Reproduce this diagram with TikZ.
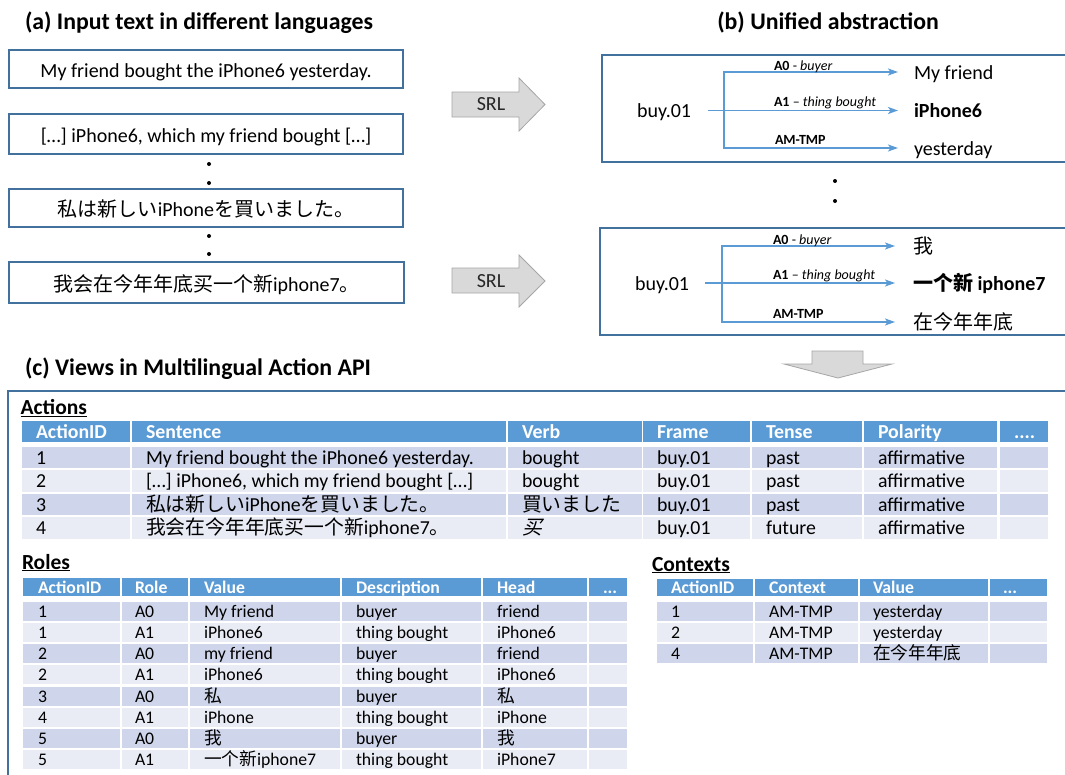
\documentclass[tikz,border=0pt]{standalone}
\usepackage{fontspec}
\setmainfont{Carlito}
\newfontfamily\jafont{Noto Sans CJK JP}
\newfontfamily\zhfont{Noto Sans CJK SC}
\newfontfamily\zhslant{Noto Sans CJK SC}[FakeSlant=0.25]
\newcommand{\cjkja}[1]{{\jafont #1}}
\newcommand{\cjkzh}[1]{{\zhfont #1}}
\usetikzlibrary{arrows.meta}
\definecolor{boxblue}{HTML}{41719C}
\definecolor{lineblue}{HTML}{5B9BD5}
\definecolor{hdr}{HTML}{5B9BD5}
\definecolor{rowa}{HTML}{CFD5EA}
\definecolor{rowb}{HTML}{E9EBF5}
\definecolor{arrowfill}{HTML}{D9D9D9}
\definecolor{arrowline}{HTML}{A6A6A6}
\def\actcols{22/130,132/506,508/642,643/750,752/862,864/997,1000/1048}
\def\rolcols{23/120,122/188,190/340,342/481,483/587,589/627}
\def\ctxcols{657/753,755/858,860/988,990/1047}
\newcommand{\cellrow}[4]{\foreach \xa/\xb in #4 {\fill[#3] (\xa,#1) rectangle (\xb,#1+#2);}}
\newcommand{\acttext}[8]{%
  \node[acttxt] (#1id) at (36,#2) {#3};
  \node[acttxt] (#1sen) at (146,#2) {#4};
  \node[acttxt] (#1verb) at (522,#2) {#5};
  \node[acttxt] (#1frm) at (657,#2) {#6};
  \node[acttxt] (#1tns) at (766,#2) {#7};
  \node[acttxt] (#1pol) at (878,#2) {#8};}
\newcommand{\roltext}[7]{%
  \node[roltxt] (#1id) at (38,#2) {#3};
  \node[roltxt] (#1role) at (135,#2) {#4};
  \node[roltxt] (#1val) at (204,#2) {#5};
  \node[roltxt] (#1desc) at (356,#2) {#6};
  \node[roltxt] (#1head) at (497,#2) {#7};}
\newcommand{\ctxtext}[5]{%
  \node[roltxt] (#1id) at (671,#2) {#3};
  \node[roltxt] (#1ctx) at (769,#2) {#4};
  \node[roltxt] (#1val) at (873,#2) {#5};}
\begin{document}
\begin{tikzpicture}[x=1pt,y=-1pt,
  every node/.style={inner sep=0pt, outer sep=0pt},
  title/.style={font=\bfseries\fontsize{23.8}{28}\selectfont, anchor=base west},
  inbox/.style={draw=boxblue, line width=1.6pt, minimum width=394pt, text height=17pt, text depth=0pt, font=\fontsize{20}{24}\selectfont},
  boxline/.style={draw=boxblue, line width=1.6pt},
  srlarrow/.style={fill=arrowfill, draw=arrowline, line width=0.8pt},
  srltxt/.style={font=\fontsize{20}{24}\selectfont, text=black!85},
  conn/.style={draw=lineblue, line width=1.6pt, -{Stealth[length=10pt,width=7pt,inset=2.5pt]}},
  rolelbl/.style={font=\fontsize{14}{16}\selectfont, anchor=base west},
  tgt/.style={font=\fontsize{20}{24}\selectfont, anchor=base west},
  seclbl/.style={font=\bfseries\fontsize{21.5}{26}\selectfont, anchor=base west},
  acttxt/.style={font=\fontsize{19.8}{23}\selectfont, anchor=base west},
  acthd/.style={acttxt, font=\bfseries\fontsize{19.8}{23}\selectfont, text=white},
  roltxt/.style={font=\fontsize{17.7}{21}\selectfont, anchor=base west},
  rolhd/.style={roltxt, font=\bfseries\fontsize{17.7}{21}\selectfont, text=white}
]
\useasboundingbox (0,0) rectangle (1065,774);
\fill[white] (0,0) rectangle (1065,774);

% titles
\node[title] (ta) at (25,29.5) {(a) Input text in different languages};
\node[title, anchor=base] (tb) at (828,29.5) {(b) Unified abstraction};
\node[title] (tc) at (25,375.5) {(c) Views in Multilingual Action API};

% input boxes
\node[inbox, minimum height=38pt] (in1) at (206,69) {My friend bought the iPhone6 yesterday.};
\node[inbox, minimum height=40pt] (in2) at (206,134) {[…] iPhone6, which my friend bought […]};
\node[inbox, minimum height=38pt] (in3) at (206,208) {\cjkja{私は新しい}iPhone\cjkja{を買いました。}};
\node[inbox, minimum height=41pt, minimum width=395pt] (in4) at (206.5,282.5) {\cjkzh{我会在今年年底买一个新}iphone7\cjkzh{。}};

% vertical dots
\foreach \y in {164,183,236,254} \fill (209,\y) circle (2);
\fill (835,181) circle (2);
\fill (835,201) circle (2);

% SRL arrows
\draw[srlarrow] (452,92) -- (519,92) -- (519,78) -- (545,104.5) -- (519,131) -- (519,117) -- (452,117) -- cycle;
\node[srltxt] (srl1) at (491,104.5) {SRL};
\draw[srlarrow] (452,268) -- (519,268) -- (519,255) -- (545,281) -- (519,307) -- (519,293) -- (452,293) -- cycle;
\node[srltxt] (srl2) at (491,281) {SRL};

% panel b, first frame
\draw[boxline] (1068,55) -- (602,55) -- (602,162) -- (1068,162);
\node[tgt] (b1v) at (637,117) {buy.01};
\coordinate (b1s) at (708,110.5);
\coordinate (b1j) at (724,110.5);
\coordinate (b1e0) at (898,72);
\coordinate (b1e1) at (898,110.5);
\coordinate (b1e2) at (898,148);
\draw[conn] (b1s) -- (b1e1);
\draw[conn] (b1j) |- (b1e0);
\draw[conn] (b1j) |- (b1e2);
\node[rolelbl] (b1l0) at (774,70.5) {\textbf{A0} - \textit{buyer}};
\node[rolelbl] (b1l1) at (774,106.5) {\textbf{A1} – \textit{thing bought}};
\node[rolelbl] (b1l2) at (775,144.3) {\textbf{AM-TMP}};
\node[tgt] (b1t0) at (914,79.3) {My friend};
\node[tgt] (b1t1) at (914,117.3) {\textbf{iPhone6}};
\node[tgt] (b1t2) at (914,155.3) {yesterday};

% panel b, second frame
\draw[boxline] (1068,228) -- (600,228) -- (600,335) -- (1068,335);
\node[tgt] (b2v) at (635,290) {buy.01};
\coordinate (b2s) at (705,283);
\coordinate (b2j) at (722,283);
\coordinate (b2e0) at (895,246);
\coordinate (b2e1) at (895,283);
\coordinate (b2e2) at (895,322);
\draw[conn] (b2s) -- (b2e1);
\draw[conn] (b2j) |- (b2e0);
\draw[conn] (b2j) |- (b2e2);
\node[rolelbl] (b2l0) at (773,244) {\textbf{A0} - \textit{buyer}};
\node[rolelbl] (b2l1) at (773,279.3) {\textbf{A1} – \textit{thing bought}};
\node[rolelbl] (b2l2) at (773,318.3) {\textbf{AM-TMP}};
\node[tgt] (b2t0) at (913,253.5) {\cjkzh{我}};
\node[tgt] (b2t1) at (913,290.7) {\textbf{\cjkzh{一个新} iphone7}};
\node[tgt] (b2t2) at (913,329.5) {\cjkzh{在今年年底}};

% down arrow
\draw[srlarrow] (812,351) -- (863,351) -- (863,364) -- (892,364) -- (838,378) -- (784,364) -- (812,364) -- cycle;

% frame of part c
\draw[boxline] (8,780) -- (8,391) -- (1070,391);

% section labels
\node[seclbl] (lact) at (20.7,414.4) {\underline{Actions}};
\node[seclbl] (lrol) at (22,569) {\underline{Roles}};
\node[seclbl] (lctx) at (652,571) {\underline{Contexts}};

% Actions table
\cellrow{421}{21}{hdr}{\actcols}
\cellrow{446.5}{21.5}{rowa}{\actcols}
\cellrow{470}{21.5}{rowb}{\actcols}
\cellrow{493.5}{21.5}{rowa}{\actcols}
\cellrow{517}{21.5}{rowb}{\actcols}
\node[acthd] (ah1) at (36,438.3) {ActionID};
\node[acthd] (ah2) at (146,438.3) {Sentence};
\node[acthd] (ah3) at (522,438.3) {Verb};
\node[acthd] (ah4) at (657,438.3) {Frame};
\node[acthd] (ah5) at (766,438.3) {Tense};
\node[acthd] (ah6) at (878,438.3) {Polarity};
\node[acthd] (ah7) at (1014,438.3) {....};
\acttext{a1}{464}{1}{My friend bought the iPhone6 yesterday.}{bought}{buy.01}{past}{affirmative}
\acttext{a2}{487.5}{2}{[…] iPhone6, which my friend bought […]}{bought}{buy.01}{past}{affirmative}
\acttext{a3}{511}{3}{\cjkja{私は新しい}iPhone\cjkja{を買いました。}}{\cjkja{買いました}}{buy.01}{past}{affirmative}
\acttext{a4}{534.5}{4}{\cjkzh{我会在今年年底买一个新}iphone7\cjkzh{。}}{{\zhslant 买}}{buy.01}{future}{affirmative}

% Roles table
\cellrow{578}{18}{hdr}{\rolcols}
\foreach \i in {0,...,7} {
  \pgfmathsetmacro{\ry}{601.5+21.25*\i}
  \ifodd\i \def\rc{rowb}\else\def\rc{rowa}\fi
  \cellrow{\ry}{19}{\rc}{\rolcols}
}
\node[rolhd] (rh1) at (38,593.2) {ActionID};
\node[rolhd] (rh2) at (135,593.2) {Role};
\node[rolhd] (rh3) at (204,593.2) {Value};
\node[rolhd] (rh4) at (356,593.2) {Description};
\node[rolhd] (rh5) at (497,593.2) {Head};
\node[rolhd] (rh6) at (603,593.2) {...};
\roltext{r1}{617.2}{1}{A0}{My friend}{buyer}{friend}
\roltext{r2}{638.45}{1}{A1}{iPhone6}{thing bought}{iPhone6}
\roltext{r3}{659.7}{2}{A0}{my friend}{buyer}{friend}
\roltext{r4}{680.95}{2}{A1}{iPhone6}{thing bought}{iPhone6}
\roltext{r5}{702.2}{3}{A0}{\cjkja{私}}{buyer}{\cjkja{私}}
\roltext{r6}{723.45}{4}{A1}{iPhone}{thing bought}{iPhone}
\roltext{r7}{744.7}{5}{A0}{\cjkzh{我}}{buyer}{\cjkzh{我}}
\roltext{r8}{765.95}{5}{A1}{\cjkzh{一个新}iphone7}{thing bought}{iPhone7}

% Contexts table
\cellrow{579}{17}{hdr}{\ctxcols}
\cellrow{601.5}{19}{rowa}{\ctxcols}
\cellrow{622.5}{19}{rowb}{\ctxcols}
\cellrow{643.5}{19}{rowa}{\ctxcols}
\node[rolhd] (ch1) at (671,593.7) {ActionID};
\node[rolhd] (ch2) at (769,593.7) {Context};
\node[rolhd] (ch3) at (873,593.7) {Value};
\node[rolhd] (ch4) at (1003,593.7) {...};
\ctxtext{c1}{617.2}{1}{AM-TMP}{yesterday}
\ctxtext{c2}{638.2}{2}{AM-TMP}{yesterday}
\ctxtext{c3}{659.2}{4}{AM-TMP}{\cjkzh{在今年年底}}
\end{tikzpicture}
\end{document}
